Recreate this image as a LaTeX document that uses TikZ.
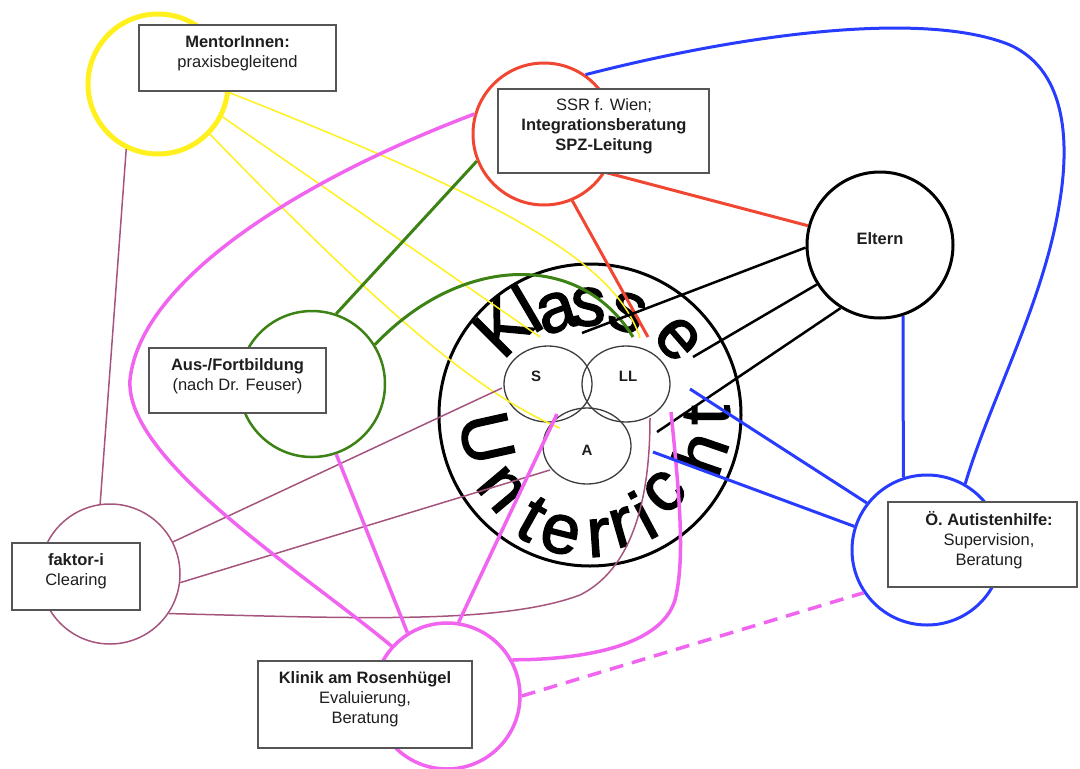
\documentclass[tikz,border=0pt]{standalone}
\usepackage{fontspec}
\setmainfont{Liberation Sans}
\newfontfamily\wafont[FakeBold=2]{Liberation Sans}
\usetikzlibrary{shapes.geometric}
\definecolor{cyel}{RGB}{255,240,30}
\definecolor{cred}{RGB}{240,70,50}
\definecolor{cgreen}{RGB}{60,130,20}
\definecolor{cpink}{RGB}{240,100,240}
\definecolor{cblue}{RGB}{40,60,255}
\definecolor{cmauve}{RGB}{165,85,125}
\definecolor{cbox}{RGB}{85,85,85}
\definecolor{ctxt}{RGB}{30,30,30}
\definecolor{cell}{RGB}{60,60,60}
\begin{document}
\begin{tikzpicture}[x=1pt,y=-1pt,
  ring/.style={circle, inner sep=0pt, minimum size=#1},
  boxn/.style={draw=cbox, line width=1.4pt, fill=white, inner sep=0pt},
  btxt/.style={align=center, text=ctxt, font=\fontsize{16.5}{20}\selectfont, inner sep=0pt, anchor=north},
  ylink/.style={draw=cyel, line width=1.5pt},
  rlink/.style={draw=cred, line width=3pt},
  glink/.style={draw=cgreen, line width=3pt},
  plink/.style={draw=cpink, line width=3.5pt},
  blink/.style={draw=cblue, line width=3pt},
  klink/.style={draw=black, line width=2.5pt},
  mlink/.style={draw=cmauve, line width=1.5pt},
  bigl/.style={font=\wafont\fontsize{70}{70}\selectfont, inner sep=0pt, anchor=center, text=black},
  inner/.style={ellipse, draw=cell, line width=1.3pt, inner sep=0pt, minimum width=88pt, minimum height=76pt},
  ilab/.style={font=\bfseries\fontsize{15}{15}\selectfont, text=ctxt, inner sep=0pt}
]
\useasboundingbox (0,0) rectangle (1080,769);

% circles
\node[ring=140pt, draw=cyel, line width=5pt] (mentor) at (158,84) {};
\node[ring=142pt, draw=cred, line width=3pt] (ssr) at (544,134) {};
\node[ring=146pt, draw=black, line width=3pt] (eltern) at (880,245) {};
\node[ring=146pt, draw=cgreen, line width=2.5pt] (aus) at (312,384) {};
\node[ring=140pt, draw=cmauve, line width=1.5pt] (faktor) at (110,574) {};
\node[ring=146pt, draw=cpink, line width=3.5pt] (klinik) at (447,696) {};
\node[ring=150pt, draw=cblue, line width=3pt] (aut) at (927,550) {};
\node[ring=302pt, draw=black, line width=3pt] (kl) at (590,415) {};

% curved words
\foreach \ch/\an/\rr [count=\i] in {K/135/124, l/120.5/124, a/108/108, s/91/108, s/70/109, e/41/116}
  \node[bigl, rotate=\an-90] (kla\i) at ([shift={(\an:\rr pt)}]kl.center) {\ch};
\foreach \ch/\an/\rr [count=\i] in {U/192.6/106, n/220/116, t/240.7/119, e/256/123, r/274/123, r/286/117, i/298/113, c/314/107, h/341/116, t/0/117}
  \node[bigl, rotate=\an+90] (unt\i) at ([shift={(\an:\rr pt)}]kl.center) {\ch};

% inner circles
\node[inner] (S) at (548,384) {};
\node[inner] (LL) at (626,384) {};
\node[inner] (A) at (587,446) {};
\node[ilab] (Slab) at (536,376) {S};
\node[ilab] (LLlab) at (628,376) {LL};
\node[ilab] (Alab) at (587,450) {A};

% free ends
\coordinate (y1e) at (640,338);
\coordinate (y2e) at (540,337);
\coordinate (y3e) at (560,428);
\coordinate (r1e) at (648,337);
\coordinate (g2e) at (633,337);
\coordinate (k1e) at (582,333);
\coordinate (k2e) at (693,357);
\coordinate (k3e) at (657,432);
\coordinate (pAe) at (557,414);
\coordinate (pLLe) at (671,412);
\coordinate (pq) at (675,600);
\coordinate (pl1) at (130,380);
\coordinate (mSe) at (502,388);
\coordinate (mAe) at (550,470);
\coordinate (mLLe) at (650,418);
\coordinate (mq) at (580,595);
\coordinate (bl1e) at (690,389);
\coordinate (bl2e) at (653,452);
\coordinate (bq1) at (1010,45);
\coordinate (bq2) at (1060,200);

% yellow
\draw[ylink] (mentor.-7) .. controls (500,200) and (615,260) .. (y1e);
\draw[ylink] (mentor.-27) -- (y2e);
\draw[ylink] (mentor.-44) .. controls (380,310) and (480,395) .. (y3e);
% mauve
\draw[mlink] (mentor.-116) -- (faktor.98);
\draw[mlink] (faktor.27) -- (mSe);
\draw[mlink] (faktor.-7) -- (mAe);
\draw[mlink] (faktor.-34) .. controls (350,618) and (500,625) .. (mq) .. controls (640,565) and (650,480) .. (mLLe);
% green
\draw[glink] (aus.71) -- (ssr.202);
\draw[glink] (aus.32) .. controls (460,255) and (580,250) .. (g2e);
% red
\draw[rlink] (ssr.-32) -- (eltern.165);
\draw[rlink] (ssr.-67) -- (r1e);
% black
\draw[klink] (eltern.182) -- (k1e);
\draw[klink] (eltern.212) -- (k2e);
\draw[klink] (eltern.238) -- (k3e);
% pink
\draw[plink] (ssr.164) .. controls (300,180) and (140,280) .. (pl1) .. controls (125,460) and (300,570) .. (klinik.138);
\draw[plink] (aus.-71) -- (klinik.122);
\draw[plink] (pAe) -- (klinik.81);
\draw[plink] (pLLe) .. controls (680,500) and (685,560) .. (pq) .. controls (660,650) and (570,660) .. (klinik.29);
\draw[plink, dash pattern=on 14pt off 9pt] (klinik.0) -- (aut.214);
% blue
\draw[blink] (eltern.288) -- (aut.108);
\draw[blink] (ssr.55) .. controls (760,30) and (930,12) .. (bq1) .. controls (1070,72) and (1068,150) .. (bq2) .. controls (1045,300) and (990,400) .. (aut.60);
\draw[blink] (aut.142) -- (bl1e);
\draw[blink] (aut.162) -- (bl2e);

% boxes and texts
\node[boxn, minimum width=197pt, minimum height=66pt] (mbox) at (237.5,58) {};
\node[btxt] (mtxt) at (237.5,36) {\textbf{MentorInnen:}\\praxisbegleitend};
\node[boxn, minimum width=211pt, minimum height=84pt] (sbox) at (603.5,131) {};
\node[btxt] (stxt) at (604,98) {SSR f. Wien;\\\textbf{Integrationsberatung}\\\textbf{SPZ-Leitung}};
\node[btxt, anchor=center] (etxt) at (880,239) {\textbf{Eltern}};
\node[boxn, minimum width=177pt, minimum height=65pt] (abox) at (237.5,380.5) {};
\node[btxt] (atxt) at (237.5,358) {\textbf{Aus-/Fortbildung}\\(nach Dr. Feuser)};
\node[boxn, minimum width=128pt, minimum height=67pt] (fbox) at (76,576.5) {};
\node[btxt] (ftxt) at (76,553) {\textbf{faktor-i}\\Clearing};
\node[boxn, minimum width=214pt, minimum height=87pt] (kbox) at (365,704.5) {};
\node[btxt] (ktxt) at (365,671) {\textbf{Klinik am Rosenhügel}\\Evaluierung,\\Beratung};
\node[boxn, minimum width=189pt, minimum height=85pt] (obox) at (982.5,544.5) {};
\node[btxt] (otxt) at (989,511) {\textbf{Ö. Autistenhilfe:}\\Supervision,\\Beratung};
\end{tikzpicture}
\end{document}
